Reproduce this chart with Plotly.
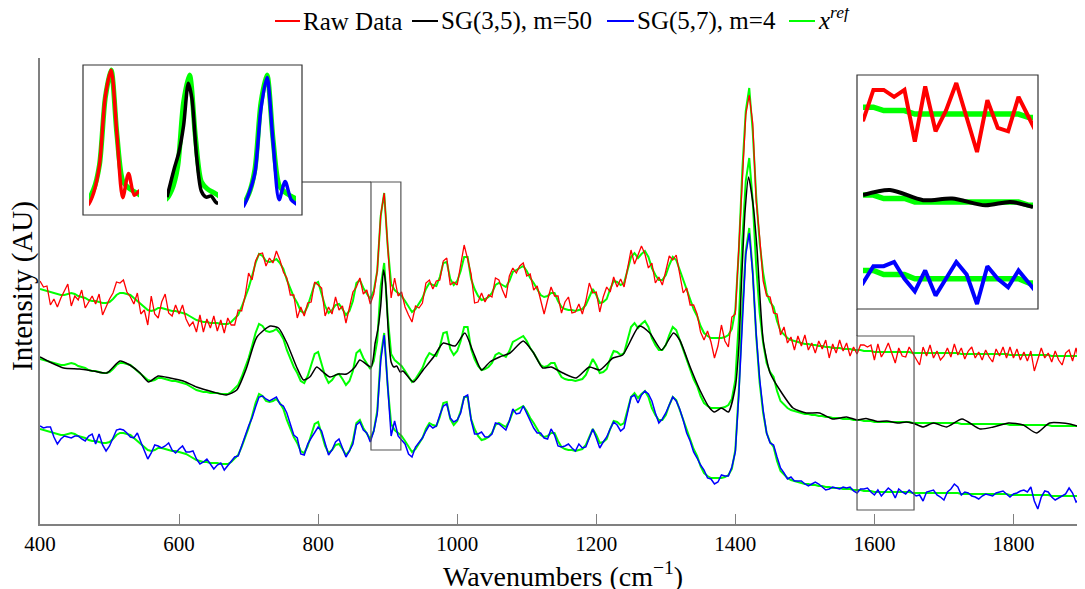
import numpy as np
import plotly.graph_objects as go

# ---------------- data ----------------
# common wavenumber grid, cm^-1
wavenumbers = list(range(400, 1901, 5))

# reference spectrum x_ref (AU)
x_ref = [
 92,91,90,89,88,87,86,86,87,88,87,85,84,83,81,80,80,79,78,78,
 79,82,86,88,88,87,86,83,80,77,74,71,70,71,73,73,72,71,70,70,
 69,68,67,65,63,61,60,59,59,58,58,58,57,57,57,59,62,66,74,83,
 93,105,118,127,125,120,119,120,122,118,112,101,92,84,78,70,68,75,86,97,
 99,88,75,68,71,76,77,72,66,70,80,98,101,93,87,82,90,110,165,188,
 135,97,91,88,85,80,74,69,72,77,83,92,98,96,95,104,118,119,102,96,
 100,110,124,124,102,92,85,81,82,84,88,96,98,96,94,100,109,111,113,115,
 110,103,98,92,86,84,85,88,88,80,74,72,71,71,70,71,72,76,85,92,
 86,78,79,82,92,100,99,96,98,110,124,128,123,127,130,124,113,106,101,101,
 106,116,124,121,111,101,90,81,72,65,55,48,45,43,43,43,43,44,46,52,
 71,130,210,270,293,250,185,138,108,88,79,74,60,50,46,43,41,40,39,38,
 37,37,36,36,35,35,34,34,33,33,33,32,32,32,31,31,31,30,30,30,
 29,29,29,29,29,29,29,29,29,29,29,28,28,28,28,28,28,28,28,28,
 28,28,28,28,28,27,27,27,27,27,27,27,27,27,27,27,27,27,27,26,
 26,26,26,26,26,26,26,26,26,26,26,25,25,25,25,25,25,25,25,25,
 25]

# raw data: deviation from x_ref on the same grid (AU)
raw_dev = [
 8,3,5,-13,-6,-13,-3,4,10,-13,-2,-4,7,-10,-2,5,-3,8,-12,-4,
 3,6,13,10,13,2,-2,-6,8,-10,-3,-15,15,-4,-10,6,15,-3,-5,6,
 -2,8,-5,-10,-4,-12,6,-10,3,-5,7,-8,4,-9,6,-3,-6,5,-4,2,
 15,-4,2,0,3,-5,4,-2,8,3,-3,2,-6,2,-15,4,-3,3,-7,2,
 -3,5,-10,6,-4,8,-6,3,-8,5,9,-4,2,-6,4,-5,-3,0,1,0,
 0,-14,12,-3,4,-6,-8,-10,3,-4,-5,6,3,-4,5,-3,2,4,-6,3,
 -4,6,12,-2,5,-14,-6,7,-3,2,-4,7,3,-5,-11,5,4,-3,2,3,
 -5,4,-7,3,-6,-17,-4,6,-3,5,-6,7,13,-3,-1,6,-5,4,13,-4,
 3,-9,5,12,-3,4,-5,6,-4,3,7,-11,4,8,-3,-11,5,-8,3,-5,
 4,9,-3,5,-4,-13,3,-5,4,2,-6,-7,5,-4,-20,-8,13,-4,-12,12,
 -4,5,-6,-4,-7,8,-5,6,-8,-3,5,-6,7,-4,8,-5,3,-9,6,-3,
 9,-6,2,-8,5,-3,7,-11,4,-5,8,-2,6,-7,3,-4,5,6,4,6,
 -8,8,-5,1,9,-1,-11,4,-4,-5,5,0,-6,-12,6,-3,8,-5,2,-7,
 -3,5,-4,9,-2,6,-5,3,7,-4,2,-6,4,-3,-8,5,-2,7,-4,8,
 -3,6,-5,3,-6,4,-16,-5,7,-3,2,-6,5,-4,-9,3,6,-5,8,-7,
 2]

# SG(5,7), m=4: deviation from x_ref on the same grid (AU)
sg57_dev = [
 3,2,4,5,-4,-10,-4,-1,-3,-5,-2,0,-2,-3,4,7,-3,8,-2,-8,
 -4,2,5,4,3,1,-2,0,8,2,-4,-9,-2,5,2,0,3,7,1,-2,
 3,7,2,4,7,1,-3,0,3,-1,-6,-2,1,-6,-2,0,2,-1,0,2,
 2,-2,-4,-3,0,2,1,2,2,-1,3,7,4,2,5,-3,-2,2,-3,-8,
 -5,2,3,-2,0,3,5,1,-2,0,-3,-2,-2,-2,1,-3,0,-3,-5,-2,
 -2,-12,9,-3,-4,-3,-7,-5,2,1,0,-2,-2,-3,0,2,-3,-2,1,3,
 1,-2,0,2,-1,-5,2,8,2,0,-1,2,-1,-2,-3,0,3,-4,-5,0,
 -2,-3,-5,-4,2,-1,-3,4,-2,-5,0,3,6,2,0,6,1,-2,-1,0,
 -3,-5,0,2,0,-1,-3,-6,-5,-2,0,-2,-5,-1,0,3,7,2,-3,1,
 2,0,0,-1,1,0,-2,-1,-3,-2,1,3,-2,-1,-6,-4,3,1,-1,2,
 -2,-4,-6,-4,-5,-3,2,4,3,0,-1,2,4,3,2,-1,3,0,1,2,
 0,-2,1,3,2,-1,-3,-2,1,0,-1,2,1,2,-1,-3,1,2,3,-1,
 -3,2,-4,0,4,1,-6,3,0,-2,2,0,-3,-2,-8,1,2,3,-2,-4,
 -7,1,4,9,6,-1,2,1,-2,-3,-5,-2,0,-1,-2,1,2,3,0,-2,
 1,2,4,5,3,8,-6,-14,-2,4,3,-1,-4,-2,0,2,8,3,-6,-3,
 0]

# SG(3,5), m=50: smooth curve, read at these wavenumbers (AU)
sg35_wn = [400,414,434,457,477,496,515,529,544,556,570,587,606,625,649,668,683,697,712,731,
           743,755,769,779,788,798,807,817,829,841,853,860,876,882,886,890,894,897,901,905,
           909,913,918,922,937,951,966,980,997,1011,1023,1035,1047,1061,1076,1095,1109,1123,1135,1152,
           1171,1190,1205,1224,1238,1262,1277,1294,1311,1320,1335,1349,1363,1370,1380,1390,1400,1405,1409,1414,
           1419,1426,1431,1440,1450,1464,1483,1502,1521,1540,1560,1575,1588,1604,1618,1634,1646,1657,1670,1685,
           1704,1726,1752,1771,1793,1814,1833,1852,1881,1900]
sg35_val = [94,89,83,82,80,78,90,86,78,69,75,73,70,64,59,56,61,83,114,125,
            123,108,84,71,74,84,79,74,77,77,84,91,84,108,122,145,181,168,118,89,
            84,85,79,80,69,81,94,108,105,118,99,81,89,94,98,110,99,83,84,78,
            73,84,81,93,96,125,118,101,118,111,84,61,43,39,43,39,64,104,171,240,
            274,244,204,111,78,61,43,38,38,32,34,31,32.5,29.5,30,28,29,27.5,24,28,
            24,32,22,24,28,26,18,28,27,23]

# vertical offsets of the stacked traces (AU)
offset_raw, offset_sg35, offset_sg57 = 140, 70, 0

# zoom windows (cm^-1)
zoom_peak = (876, 919)
zoom_flat = (1575, 1657)

x_tickvals = [400, 600, 800, 1000, 1200, 1400, 1600, 1800]

# ---------------- styling / layout helpers ----------------
RED, BLACK, BLUE, GREEN = "#ff0000", "#000000", "#0000ff", "#00ff00"
FONT = "Liberation Serif"
PAGE_W, PAGE_H = 1085, 589
BODY = 8                                     # default page margin of the html body
W, H = PAGE_W - BODY, PAGE_H - BODY
PL, PR, PT, PB = 40, 1083, 58, 524          # plot-area box, page pixels
XR = (400, 1900)
YR = (-3, 463)


def px2x(px):
    return XR[0] + (px - PL) * (XR[1] - XR[0]) / (PR - PL)


def px2y(py):
    return YR[0] + (PB - py) * (YR[1] - YR[0]) / (PB - PT)


def pdx(a, b):
    return [(a - PL) / (PR - PL), (b - PL) / (PR - PL)]


def pdy(top, bot):
    return [(PB - bot) / (PB - PT), (PB - top) / (PB - PT)]


def ppx(px):
    return (px - PL) / (PR - PL)


def ppy(py):
    return (PB - py) / (PB - PT)


wn = np.array(wavenumbers, float)
ref = np.array(x_ref, float)
raw = ref + np.array(raw_dev, float) + offset_raw
sg57 = ref + np.array(sg57_dev, float) + offset_sg57
s35x = np.array(sg35_wn, float)
s35y = np.array(sg35_val, float) + offset_sg35

fig = go.Figure()

# main panel: references first (underneath)
for off in (offset_raw, offset_sg35, offset_sg57):
    fig.add_trace(go.Scatter(x=wn, y=ref + off, mode="lines",
                             line=dict(color=GREEN, width=2), showlegend=False,
                             hoverinfo="skip"))
fig.add_trace(go.Scatter(x=wn, y=raw, mode="lines", name="Raw Data",
                         line=dict(color=RED, width=1.3), showlegend=False))
fig.add_trace(go.Scatter(x=s35x, y=s35y, mode="lines", name="SG(3,5), m=50",
                         line=dict(color=BLACK, width=1.5, shape="spline", smoothing=0.6),
                         showlegend=False))
fig.add_trace(go.Scatter(x=wn, y=sg57, mode="lines", name="SG(5,7), m=4",
                         line=dict(color=BLUE, width=1.5), showlegend=False))

# insets: (axis id, x-pixels, y-pixels, window, series)
series = {
    "raw": (wn, raw, offset_raw, RED),
    "sg35": (s35x, s35y, offset_sg35, BLACK),
    "sg57": (wn, sg57, offset_sg57, BLUE),
}
insets = [
    (2, (89, 139), (70, 205), zoom_peak, "raw", 3.5, True),
    (3, (167, 218), (75, 203), zoom_peak, "sg35", 3.5, True),
    (4, (244, 296), (75, 207), zoom_peak, "sg57", 3.5, True),
    (5, (863, 1033), (83, 152), zoom_flat, "raw", 4, False),
    (6, (863, 1033), (190, 207), zoom_flat, "sg35", 4, False),
    (7, (863, 1033), (262, 304), zoom_flat, "sg57", 4, False),
]
layout_axes = {}
for ax, (x0, x1), (y0, y1), (w0, w1), key, lw, smooth in insets:
    sx, sy, off, col = series[key]
    # values inside the window set the vertical scale
    m_s = (sx >= w0 - 4) & (sx <= w1 + 4)
    m_r = (wn >= w0 - 4) & (wn <= w1 + 4)
    vals = np.concatenate([sy[m_s], ref[m_r] + off])
    lo, hi = vals.min(), vals.max()
    pad_px = 3
    k = (hi - lo) / (y1 - y0)
    p_s = (sx >= w0 - 12) & (sx <= w1 + 12)
    p_r = (wn >= w0 - 12) & (wn <= w1 + 12)
    xa, ya = f"x{ax}", f"y{ax}"
    shape = "spline" if smooth else "linear"
    fig.add_trace(go.Scatter(x=wn[p_r], y=ref[p_r] + off, mode="lines",
                             line=dict(color=GREEN, width=lw + 1.5, shape=shape, smoothing=0.8),
                             xaxis=xa, yaxis=ya, showlegend=False, hoverinfo="skip"))
    fig.add_trace(go.Scatter(x=sx[p_s], y=sy[p_s], mode="lines",
                             line=dict(color=col, width=lw,
                                       shape="spline" if (smooth or key == "sg35") else "linear",
                                       smoothing=0.8),
                             xaxis=xa, yaxis=ya, showlegend=False, hoverinfo="skip"))
    layout_axes[f"xaxis{ax}"] = dict(domain=pdx(x0, x1), range=[w0, w1], visible=False,
                                     anchor=ya, fixedrange=True)
    layout_axes[f"yaxis{ax}"] = dict(domain=pdy(y0 - pad_px, y1 + pad_px),
                                     range=[lo - pad_px * k, hi + pad_px * k],
                                     visible=False, anchor=xa, fixedrange=True)

# boxes and connectors (main axis coordinates)
shapes = []
BOXC = "#555555"
# zoom windows in the main panel
shapes.append(dict(type="rect", xref="x", yref="y", x0=zoom_peak[0], x1=zoom_peak[1],
                   y0=px2y(450), y1=px2y(182), line=dict(color=BOXC, width=1.2)))
shapes.append(dict(type="rect", xref="x", yref="y", x0=zoom_flat[0], x1=zoom_flat[1],
                   y0=px2y(510), y1=px2y(336), line=dict(color=BOXC, width=1.2)))
# inset frames
shapes.append(dict(type="rect", xref="x", yref="y", x0=px2x(83), x1=px2x(302),
                   y0=px2y(215), y1=px2y(65), line=dict(color="#333333", width=1.2)))
shapes.append(dict(type="rect", xref="x", yref="y", x0=px2x(857), x1=px2x(1038),
                   y0=px2y(309), y1=px2y(75), line=dict(color="#333333", width=1.2)))
# connectors
shapes.append(dict(type="line", xref="x", yref="y", x0=px2x(302), x1=zoom_peak[0],
                   y0=px2y(182), y1=px2y(182), line=dict(color="#333333", width=1.2)))
shapes.append(dict(type="line", xref="x", yref="y", x0=zoom_flat[0], x1=zoom_flat[0],
                   y0=px2y(309), y1=px2y(336), line=dict(color="#333333", width=1.2)))

# legend drawn by hand (short line samples as in the reference)
legend_items = [
    (275, 300, RED, "Raw Data"),
    (412, 438, BLACK, "SG(3,5), m=50"),
    (607, 634, BLUE, "SG(5,7), m=4"),
    (789, 815, GREEN, "<i>x</i><sup><i>ref</i></sup>"),
]
annotations = []
LEG_Y = 21
for a, b, col, txt in legend_items:
    shapes.append(dict(type="line", xref="paper", yref="paper", x0=ppx(a), x1=ppx(b),
                       y0=ppy(LEG_Y), y1=ppy(LEG_Y), line=dict(color=col, width=2)))
    sup = "<sup>" in txt
    annotations.append(dict(xref="paper", yref="paper", x=ppx(b + 2), y=ppy(LEG_Y + (-3 if sup else 0)),
                            xanchor="left", yanchor="middle", text=txt, showarrow=False,
                            borderpad=0,
                            font=dict(family=FONT, size=25, color="black")))

# axis titles
annotations.append(dict(xref="paper", yref="paper", x=ppx(563), y=ppy(574),
                        xanchor="center", yanchor="middle", showarrow=False, borderpad=0,
                        text="Wavenumbers (cm<sup>\u22121</sup>)",
                        font=dict(family=FONT, size=28, color="black")))
annotations.append(dict(xref="paper", yref="paper", x=ppx(22), y=ppy(286),
                        xanchor="center", yanchor="middle", showarrow=False, textangle=-90,
                        borderpad=0, text="Intensity (AU)",
                        font=dict(family=FONT, size=29, color="black")))

fig.update_layout(
    width=W, height=H,
    margin=dict(l=PL - BODY, r=PAGE_W - PR, t=PT - BODY, b=PAGE_H - PB, autoexpand=False),
    paper_bgcolor="white", plot_bgcolor="white",
    showlegend=False,
    xaxis=dict(range=list(XR), tickvals=x_tickvals, ticktext=[str(v) for v in x_tickvals],
               ticks="inside", ticklen=10, tickcolor="#808080", tickwidth=1,
               showline=True, linecolor="#808080", linewidth=1.5,
               showgrid=False, zeroline=False, fixedrange=True,
               tickfont=dict(family=FONT, size=21, color="black")),
    yaxis=dict(range=list(YR), showticklabels=False, ticks="",
               showline=True, linecolor="#808080", linewidth=1.5,
               showgrid=False, zeroline=False, fixedrange=True),
    shapes=shapes, annotations=annotations,
    **layout_axes,
)

fig.write_html("out.html")
